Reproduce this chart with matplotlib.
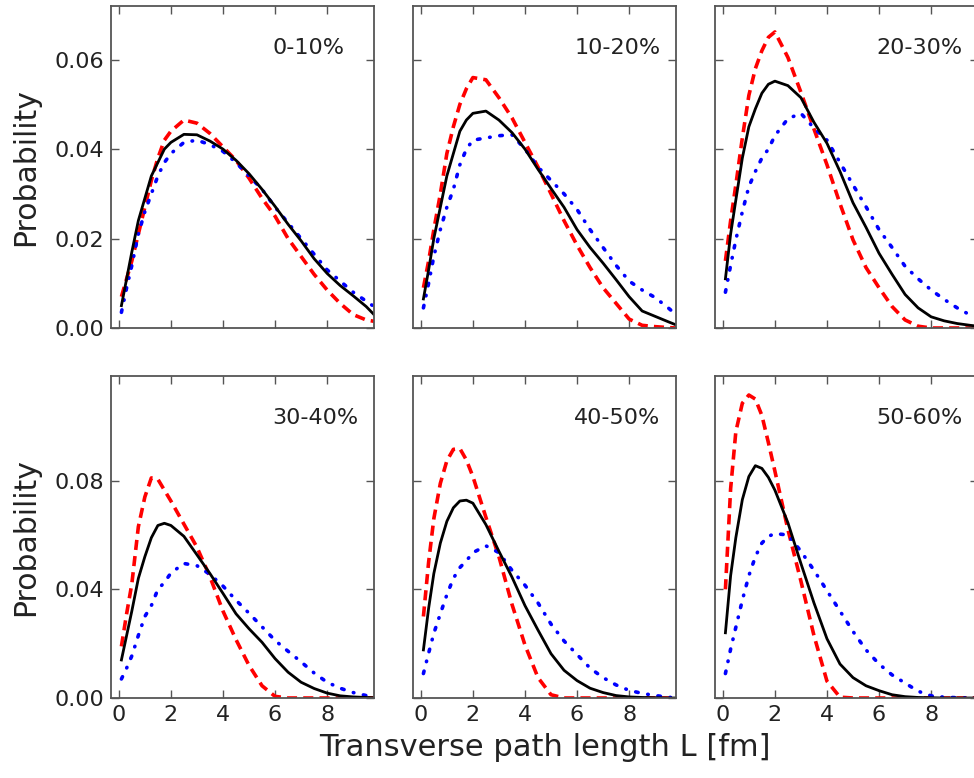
"""Path-length distributions per centrality class, 2x3 panel grid."""
import matplotlib
matplotlib.use("Agg")
import matplotlib.pyplot as plt

# -----------------------------------------------------------------------------
# Data
# -----------------------------------------------------------------------------
L = [0.1, 0.3, 0.5, 0.75, 1.0, 1.25, 1.5, 1.75, 2.0, 2.5, 3.0, 3.5, 4.0,
     4.5, 5.0, 5.5, 6.0, 6.5, 7.0, 7.5, 8.0, 8.5, 9.0, 9.5, 9.8]

CENTRALITY = ["0-10%", "10-20%", "20-30%", "30-40%", "40-50%", "50-60%"]

solid_0_10 = [0.005, 0.011, 0.017, 0.024, 0.029, 0.034, 0.037, 0.040, 0.0415,
              0.0433, 0.0432, 0.0418, 0.0400, 0.0375, 0.0345, 0.031, 0.0272,
              0.0232, 0.0195, 0.0155, 0.0122, 0.0095, 0.0072, 0.0048, 0.003]
dashed_0_10 = [0.007, 0.011, 0.015, 0.021, 0.027, 0.033, 0.038, 0.042, 0.044,
               0.0465, 0.0458, 0.0435, 0.0405, 0.0375, 0.0335, 0.029, 0.025,
               0.020, 0.016, 0.012, 0.0085, 0.0055, 0.003, 0.0018, 0.0015]
dashdot_0_10 = [0.0035, 0.009, 0.014, 0.021, 0.026, 0.030, 0.034, 0.037, 0.039,
                0.0415, 0.042, 0.041, 0.0395, 0.037, 0.034, 0.031, 0.027,
                0.0235, 0.020, 0.0165, 0.013, 0.0105, 0.008, 0.006, 0.0048]

solid_10_20 = [0.0065, 0.013, 0.020, 0.027, 0.034, 0.039, 0.044, 0.0465, 0.048,
               0.0485, 0.0465, 0.0437, 0.040, 0.0355, 0.0312, 0.027, 0.022,
               0.018, 0.0145, 0.0108, 0.007, 0.0038, 0.0026, 0.0014, 0.0007]
dashed_10_20 = [0.009, 0.015, 0.022, 0.030, 0.039, 0.045, 0.050, 0.0535, 0.056,
                0.0555, 0.0515, 0.047, 0.0415, 0.036, 0.030, 0.024, 0.0185,
                0.0135, 0.009, 0.0055, 0.002, 0.0006, 0.0003, 0.0001, 0.0]
dashdot_10_20 = [0.0045, 0.010, 0.016, 0.022, 0.027, 0.031, 0.0365, 0.040,
                 0.042, 0.0425, 0.043, 0.0432, 0.040, 0.036, 0.033, 0.030,
                 0.0265, 0.022, 0.018, 0.014, 0.0105, 0.0085, 0.0068, 0.0045,
                 0.003]

solid_20_30 = [0.011, 0.021, 0.0286, 0.038, 0.045, 0.049, 0.0525, 0.0545,
               0.0552, 0.0542, 0.0515, 0.046, 0.0413, 0.035, 0.028, 0.0225,
               0.0167, 0.012, 0.0075, 0.0045, 0.0025, 0.0016, 0.001, 0.0006,
               0.0004]
dashed_20_30 = [0.015, 0.024, 0.032, 0.0425, 0.052, 0.058, 0.062, 0.065, 0.0662,
                0.0605, 0.0527, 0.0445, 0.0365, 0.0278, 0.0197, 0.0135, 0.009,
                0.0048, 0.0018, 0.0004, 0.0, 0.0, 0.0, 0.0, 0.0]
dashdot_20_30 = [0.008, 0.014, 0.0197, 0.026, 0.0316, 0.035, 0.038, 0.040,
                 0.043, 0.0468, 0.048, 0.0447, 0.042, 0.037, 0.032, 0.0271,
                 0.022, 0.018, 0.0138, 0.011, 0.0085, 0.0064, 0.0045, 0.0029,
                 0.0022]

solid_30_40 = [0.014, 0.023, 0.032, 0.044, 0.052, 0.059, 0.0635, 0.0643, 0.0635,
               0.0595, 0.0527, 0.0458, 0.0385, 0.031, 0.0255, 0.0205, 0.0145,
               0.0095, 0.0058, 0.0035, 0.0018, 0.0008, 0.0004, 0.0002, 0.0001]
dashed_30_40 = [0.019, 0.031, 0.042, 0.063, 0.074, 0.081, 0.0805, 0.0765,
                0.0725, 0.064, 0.0555, 0.0446, 0.032, 0.0215, 0.012, 0.0045,
                0.0006, 0.0, 0.0, 0.0, 0.0, 0.0, 0.0, 0.0, 0.0]
dashdot_30_40 = [0.007, 0.011, 0.0155, 0.023, 0.030, 0.034, 0.040, 0.0425,
                 0.046, 0.0495, 0.0487, 0.0455, 0.0412, 0.036, 0.0312, 0.0262,
                 0.0212, 0.0172, 0.0133, 0.0092, 0.0058, 0.0036, 0.002, 0.0009,
                 0.0004]

solid_40_50 = [0.0177, 0.033, 0.0458, 0.057, 0.065, 0.070, 0.0725, 0.0728,
               0.0717, 0.0638, 0.054, 0.0445, 0.034, 0.025, 0.0163, 0.0102,
               0.0064, 0.0036, 0.002, 0.0009, 0.0004, 0.0002, 0.0001, 0.0, 0.0]
dashed_40_50 = [0.030, 0.050, 0.066, 0.079, 0.0873, 0.0915, 0.0918, 0.0876,
                0.0815, 0.0665, 0.052, 0.0345, 0.0195, 0.0075, 0.0012, 0.0,
                0.0, 0.0, 0.0, 0.0, 0.0, 0.0, 0.0, 0.0, 0.0]
dashdot_40_50 = [0.009, 0.0165, 0.0238, 0.031, 0.038, 0.044, 0.048, 0.0505,
                 0.0535, 0.056, 0.0535, 0.047, 0.0415, 0.035, 0.0272, 0.021,
                 0.016, 0.011, 0.0075, 0.0048, 0.0028, 0.0017, 0.0009, 0.0003,
                 0.0]

solid_50_60 = [0.024, 0.045, 0.059, 0.073, 0.0815, 0.0855, 0.0845, 0.0812,
               0.0765, 0.0645, 0.0495, 0.035, 0.0218, 0.0125, 0.0075, 0.0045,
               0.0027, 0.0012, 0.0005, 0.0002, 0.0001, 0.0, 0.0, 0.0, 0.0]
dashed_50_60 = [0.040, 0.077, 0.098, 0.1085, 0.1115, 0.110, 0.104, 0.094,
                0.0835, 0.062, 0.043, 0.023, 0.0062, 0.0003, 0.0, 0.0, 0.0,
                0.0, 0.0, 0.0, 0.0, 0.0, 0.0, 0.0, 0.0]
dashdot_50_60 = [0.009, 0.018, 0.026, 0.036, 0.045, 0.052, 0.057, 0.0595,
                 0.0605, 0.060, 0.054, 0.047, 0.0395, 0.032, 0.0245, 0.0177,
                 0.0125, 0.0085, 0.0055, 0.0025, 0.0008, 0.0003, 0.0001, 0.0,
                 0.0]

SOLID = [solid_0_10, solid_10_20, solid_20_30, solid_30_40, solid_40_50, solid_50_60]
DASHED = [dashed_0_10, dashed_10_20, dashed_20_30, dashed_30_40, dashed_40_50, dashed_50_60]
DASHDOT = [dashdot_0_10, dashdot_10_20, dashdot_20_30, dashdot_30_40, dashdot_40_50, dashdot_50_60]

YTICKS_TOP = [0.0, 0.02, 0.04, 0.06]
YTICKS_BOTTOM = [0.0, 0.04, 0.08]
XTICKS = [0, 2, 4, 6, 8]

# -----------------------------------------------------------------------------
# Figure
# -----------------------------------------------------------------------------
W, H = 974, 778
fig = plt.figure(figsize=(W / 100, H / 100), dpi=100)

col_left = [111, 413, 715]     # pixels
row_top = [6, 376]
ax_w, ax_h = 263, 322

TEXT = "#222222"
SPINE = "#555555"

for i in range(6):
    r, c = divmod(i, 3)
    left = col_left[c] / W
    bottom = 1 - (row_top[r] + ax_h) / H
    ax = fig.add_axes([left, bottom, ax_w / W, ax_h / H])

    ax.plot(L, DASHED[i], color="red", lw=2.6, dashes=(2.8, 1.7))
    ax.plot(L, DASHDOT[i], color="blue", lw=2.6, dashes=(0.7, 2.7, 0.15, 2.7),
            dash_capstyle="round")
    ax.plot(L, SOLID[i], color="black", lw=2.0)

    ax.set_xlim(-0.3, 9.8)
    ax.set_xticks(XTICKS)
    if r == 0:
        ax.set_ylim(0, 0.072)
        ax.set_yticks(YTICKS_TOP)
    else:
        ax.set_ylim(0, 0.1185)
        ax.set_yticks(YTICKS_BOTTOM)

    ax.tick_params(direction="in", top=True, right=True, length=6, width=1,
                   color=SPINE, labelsize=16, labelcolor=TEXT, pad=5)
    if r == 0:
        ax.tick_params(labelbottom=False)
    if c > 0:
        ax.tick_params(labelleft=False)
    else:
        ax.set_yticklabels([f"{v:.2f}" for v in ax.get_yticks()])
        ax.set_ylabel("Probability", fontsize=21.5, color=TEXT, labelpad=10)
    for s in ax.spines.values():
        s.set_color(SPINE)
        s.set_linewidth(1.3)

    ax.text(0.613, 0.87, CENTRALITY[i], transform=ax.transAxes, fontsize=16,
            color=TEXT, ha="left", va="center")

    if r == 1 and c == 1:
        ax.set_xlabel("Transverse path length L [fm]", fontsize=22,
                      color=TEXT, labelpad=6)

fig.savefig("out.png", dpi=100)
